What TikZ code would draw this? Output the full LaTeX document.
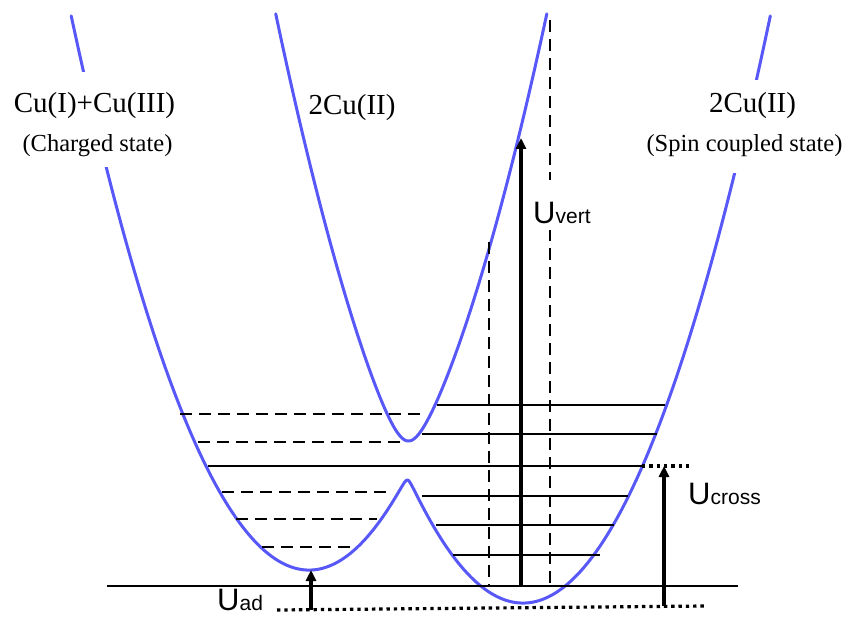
\documentclass[tikz,border=0pt]{standalone}
\usepackage{fontspec}
\setmainfont{Liberation Serif}
\newfontfamily\ufont{Liberation Sans}
\usetikzlibrary{arrows.meta}
\definecolor{curveblue}{RGB}{88,88,248}
\begin{document}
\begin{tikzpicture}[x=1pt,y=-1pt,
  declare function={
    sq(\t)=\t*\t;
    Lc(\x)=570-0.98*sq((\x-309)/10);
    Rc(\x)=603-0.96*sq((\x-523)/10);
    ylow(\x)=(Lc(\x)+Rc(\x))/2+10*sqrt(sq((Lc(\x)-Rc(\x))/20)+0.25);
    yup(\x)=(Lc(\x)+Rc(\x))/2-10*sqrt(sq((Lc(\x)-Rc(\x))/20)+11.56);
  },
  pes/.style={draw=curveblue, line width=3pt, line join=round, line cap=round},
  level/.style={line width=2.7pt},
  dlevel/.style={line width=2.7pt, dash pattern=on 12pt off 7pt},
  dots/.style={line width=3.2pt, dash pattern=on 3.4pt off 3.9pt},
  uarrow/.style={line width=3.2pt, -{Triangle[length=11pt,width=10pt]}},
  mainlbl/.style={font=\fontsize{29}{29}\selectfont, inner sep=0pt, anchor=base},
  sublbl/.style={font=\fontsize{24.5}{24.5}\selectfont, inner sep=0pt, anchor=base},
  ulbl/.style={inner sep=0pt, anchor=base west},
]
\useasboundingbox (0,0) rectangle (858,617);

% potential energy curves
\draw[pes] plot[domain=71.2:770.3, samples=500] (\x, {ylow(\x)});
\draw[pes] plot[domain=275.7:546.8, samples=300] (\x, {yup(\x)});

% vibrational levels, right well (solid)
\draw[level] (437,405) -- (665,405);
\draw[level] (422,434) -- (657,434);
\draw[level] (208,466) -- (642,466);
\draw[level] (422,496) -- (628,496);
\draw[level] (436,525) -- (614,525);
\draw[level] (453,555) -- (600,555);
\draw[dots] (642,466) -- (692,466);

% vibrational levels, left well (dashed)
\draw[dlevel] (180,414) -- (425,414);
\draw[dlevel] (198,442) -- (403,442);
\draw[dlevel] (222,492) -- (390,492);
\draw[dlevel] (236,519) -- (377,519);
\draw[dlevel] (262,547) -- (350,547);

% vertical dashed lines
\draw[dlevel] (489,242) -- (489,586);
\draw[dlevel] (550,20) -- (550,586);

% base lines
\draw[level] (107,586) -- (738,586);
\draw[dots] (277,610) -- (705,606);

% arrows
\coordinate (vb) at (521,586);
\coordinate (vt) at (521,138);
\coordinate (cb) at (664,606);
\coordinate (ct) at (664,466);
\coordinate (ab) at (311,610);
\coordinate (at0) at (311,570);
\draw[uarrow] (vb) -- (vt);
\draw[uarrow] (cb) -- (ct);
\draw[uarrow] (ab) -- (at0);

% labels
\node[mainlbl, fill=white, text height=41pt, text depth=16pt] (cu13) at (94.5,113) {Cu(I)+Cu(III)};
\node[sublbl, fill=white, text height=23pt, text depth=15pt] (charged) at (97.5,152) {(Charged state)};
\node[mainlbl] (cu2mid) at (352,115) {2Cu(II)};
\node[mainlbl, fill=white, text height=33pt, text depth=16pt] (cu2r) at (752.5,113) {2Cu(II)};
\node[sublbl, fill=white, text height=23pt, text depth=21pt] (spin) at (744.5,152) {(Spin coupled state)};

\node[ulbl, fill=white, text height=44pt, text depth=6pt] (uvert) at (533,224)
  {\ufont\fontsize{31}{31}\selectfont U\fontsize{21}{21}\selectfont vert};
\node[ulbl] (ucross) at (688,504)
  {\ufont\fontsize{31}{31}\selectfont U\fontsize{21}{21}\selectfont cross};
\node[ulbl] (uad) at (217,610)
  {\ufont\fontsize{31}{31}\selectfont U\fontsize{21}{21}\selectfont ad};
\end{tikzpicture}
\end{document}
